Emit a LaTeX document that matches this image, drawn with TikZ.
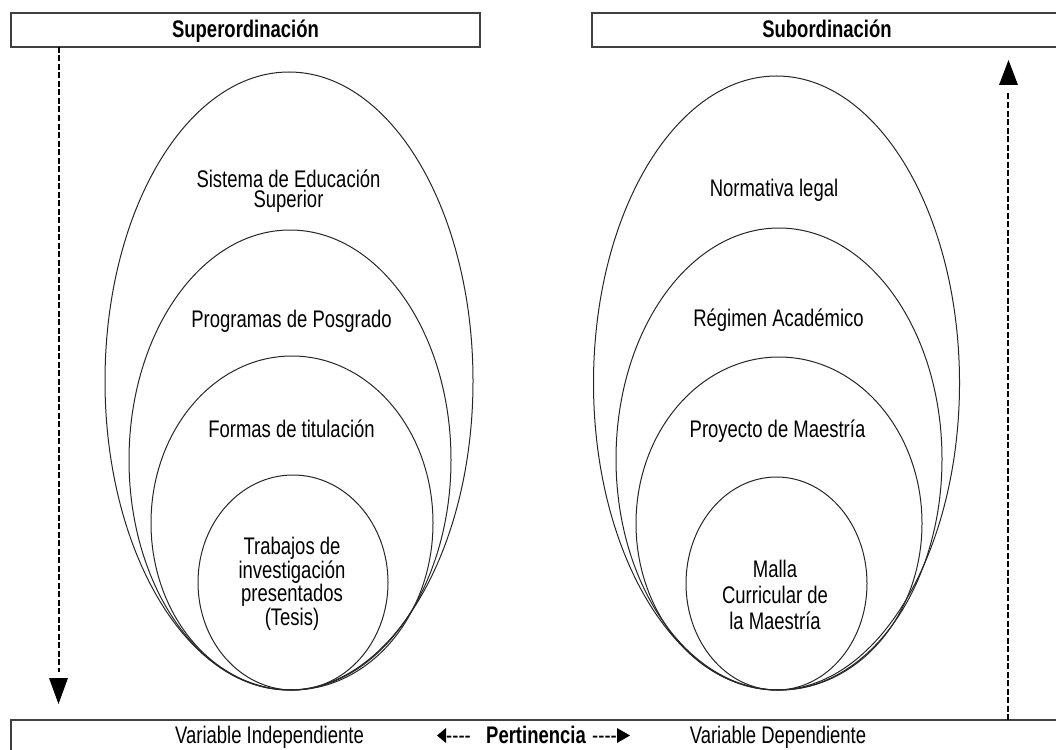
\documentclass[tikz,border=0pt]{standalone}
\usepackage{fontspec}
\setmainfont{Liberation Sans}[FakeStretch=0.77]
\usetikzlibrary{shapes.geometric}
\newcommand\mytightlines{\lineskiplimit=-50pt\relax\lineskip=0pt\relax}
\begin{document}
\begin{tikzpicture}[x=1pt,y=-1pt,
  ell/.style={ellipse, draw=black!85, line width=1pt, inner sep=0pt, outer sep=0pt},
  hdr/.style={draw=black!75, line width=1.5pt, inner sep=0pt, outer sep=0pt, anchor=north west},
  lbl/.style={font=\fontsize{24}{20}\selectfont\mytightlines, align=center, anchor=base, inner sep=0pt},
  hlbl/.style={font=\fontsize{24}{24}\selectfont\bfseries, anchor=base, inner sep=0pt},
  dashline/.style={line width=1.8pt, dash pattern=on 6pt off 2.5pt},
]
\useasboundingbox (0,0) rectangle (1056,749);

% header and footer boxes
\node[hdr, minimum width=469pt, minimum height=34pt] (supbox) at (11,13) {};
\node[hdr, minimum width=470pt, minimum height=34pt] (subbox) at (592,13) {};
\node[hdr, minimum width=1051pt, minimum height=40pt] (botbox) at (11,720) {};
\node[hlbl] (suptxt) at (245.5,38) {Superordinación};
\node[hlbl] (subtxt) at (827,38) {Subordinación};

% vertical dashed arrows
\coordinate (la) at (59,672);
\draw[dashline] (supbox.south -| la) -- (la);
\fill (49,678) -- (68,678) -- (58.5,704) -- cycle;
\coordinate (ra) at (1008,92);
\draw[dashline] (botbox.north -| ra) -- (ra);
\fill (999,85) -- (1018,85) -- (1008.5,60) -- cycle;

% left ellipses
\node[ell, minimum width=368pt, minimum height=618pt] (L1) at (289,381) {};
\node[ell, minimum width=322pt, minimum height=460pt] (L2) at (290,460) {};
\node[ell, minimum width=282pt, minimum height=334pt] (L3) at (292,523) {};
\node[ell, minimum width=190pt, minimum height=215pt] (L4) at (293,582.5) {};

% right ellipses
\node[ell, minimum width=366pt, minimum height=614pt] (R1) at (776.5,383) {};
\node[ell, minimum width=326pt, minimum height=462pt] (R2) at (779,459) {};
\node[ell, minimum width=286pt, minimum height=333pt] (R3) at (779,523.5) {};
\node[ell, minimum width=181pt, minimum height=213pt] (R4) at (776.5,583.5) {};

% left labels (base anchor = baseline of last line)
\node[lbl] (tL1) at (288.5,207) {Sistema de Educación\\Superior};
\node[lbl] (tL2) at (291.5,327) {Programas de Posgrado};
\node[lbl] (tL3) at (291.5,437) {Formas de titulación};
\node[lbl, font=\fontsize{24}{23.5}\selectfont\mytightlines] (tL4) at (292,625) {Trabajos de\\investigación\\presentados\\(Tesis)};

% right labels
\node[lbl] (tR1) at (774,196) {Normativa legal};
\node[lbl] (tR2) at (778.5,326) {Régimen Académico};
\node[lbl] (tR3) at (777.5,437) {Proyecto de Maestría};
\node[lbl, font=\fontsize{24}{26}\selectfont\mytightlines] (tR4) at (775,629) {Malla\\Curricular de\\la Maestría};

% footer labels
\node[lbl] (vi) at (269.5,743) {Variable Independiente};
\node[lbl] (vd) at (778,743) {Variable Dependiente};
\node[hlbl] (pert) at (536,743) {Pertinencia};
\fill (437,735.5) -- (446,728) -- (446,743) -- cycle;
\node[lbl, anchor=base west] (dl) at (446,743) {-{}-{}-{}-};
\node[lbl, anchor=base east] (dr) at (617,743) {-{}-{}-{}-};
\fill (617,728) -- (617,743) -- (630,735.5) -- cycle;
\end{tikzpicture}
\end{document}
